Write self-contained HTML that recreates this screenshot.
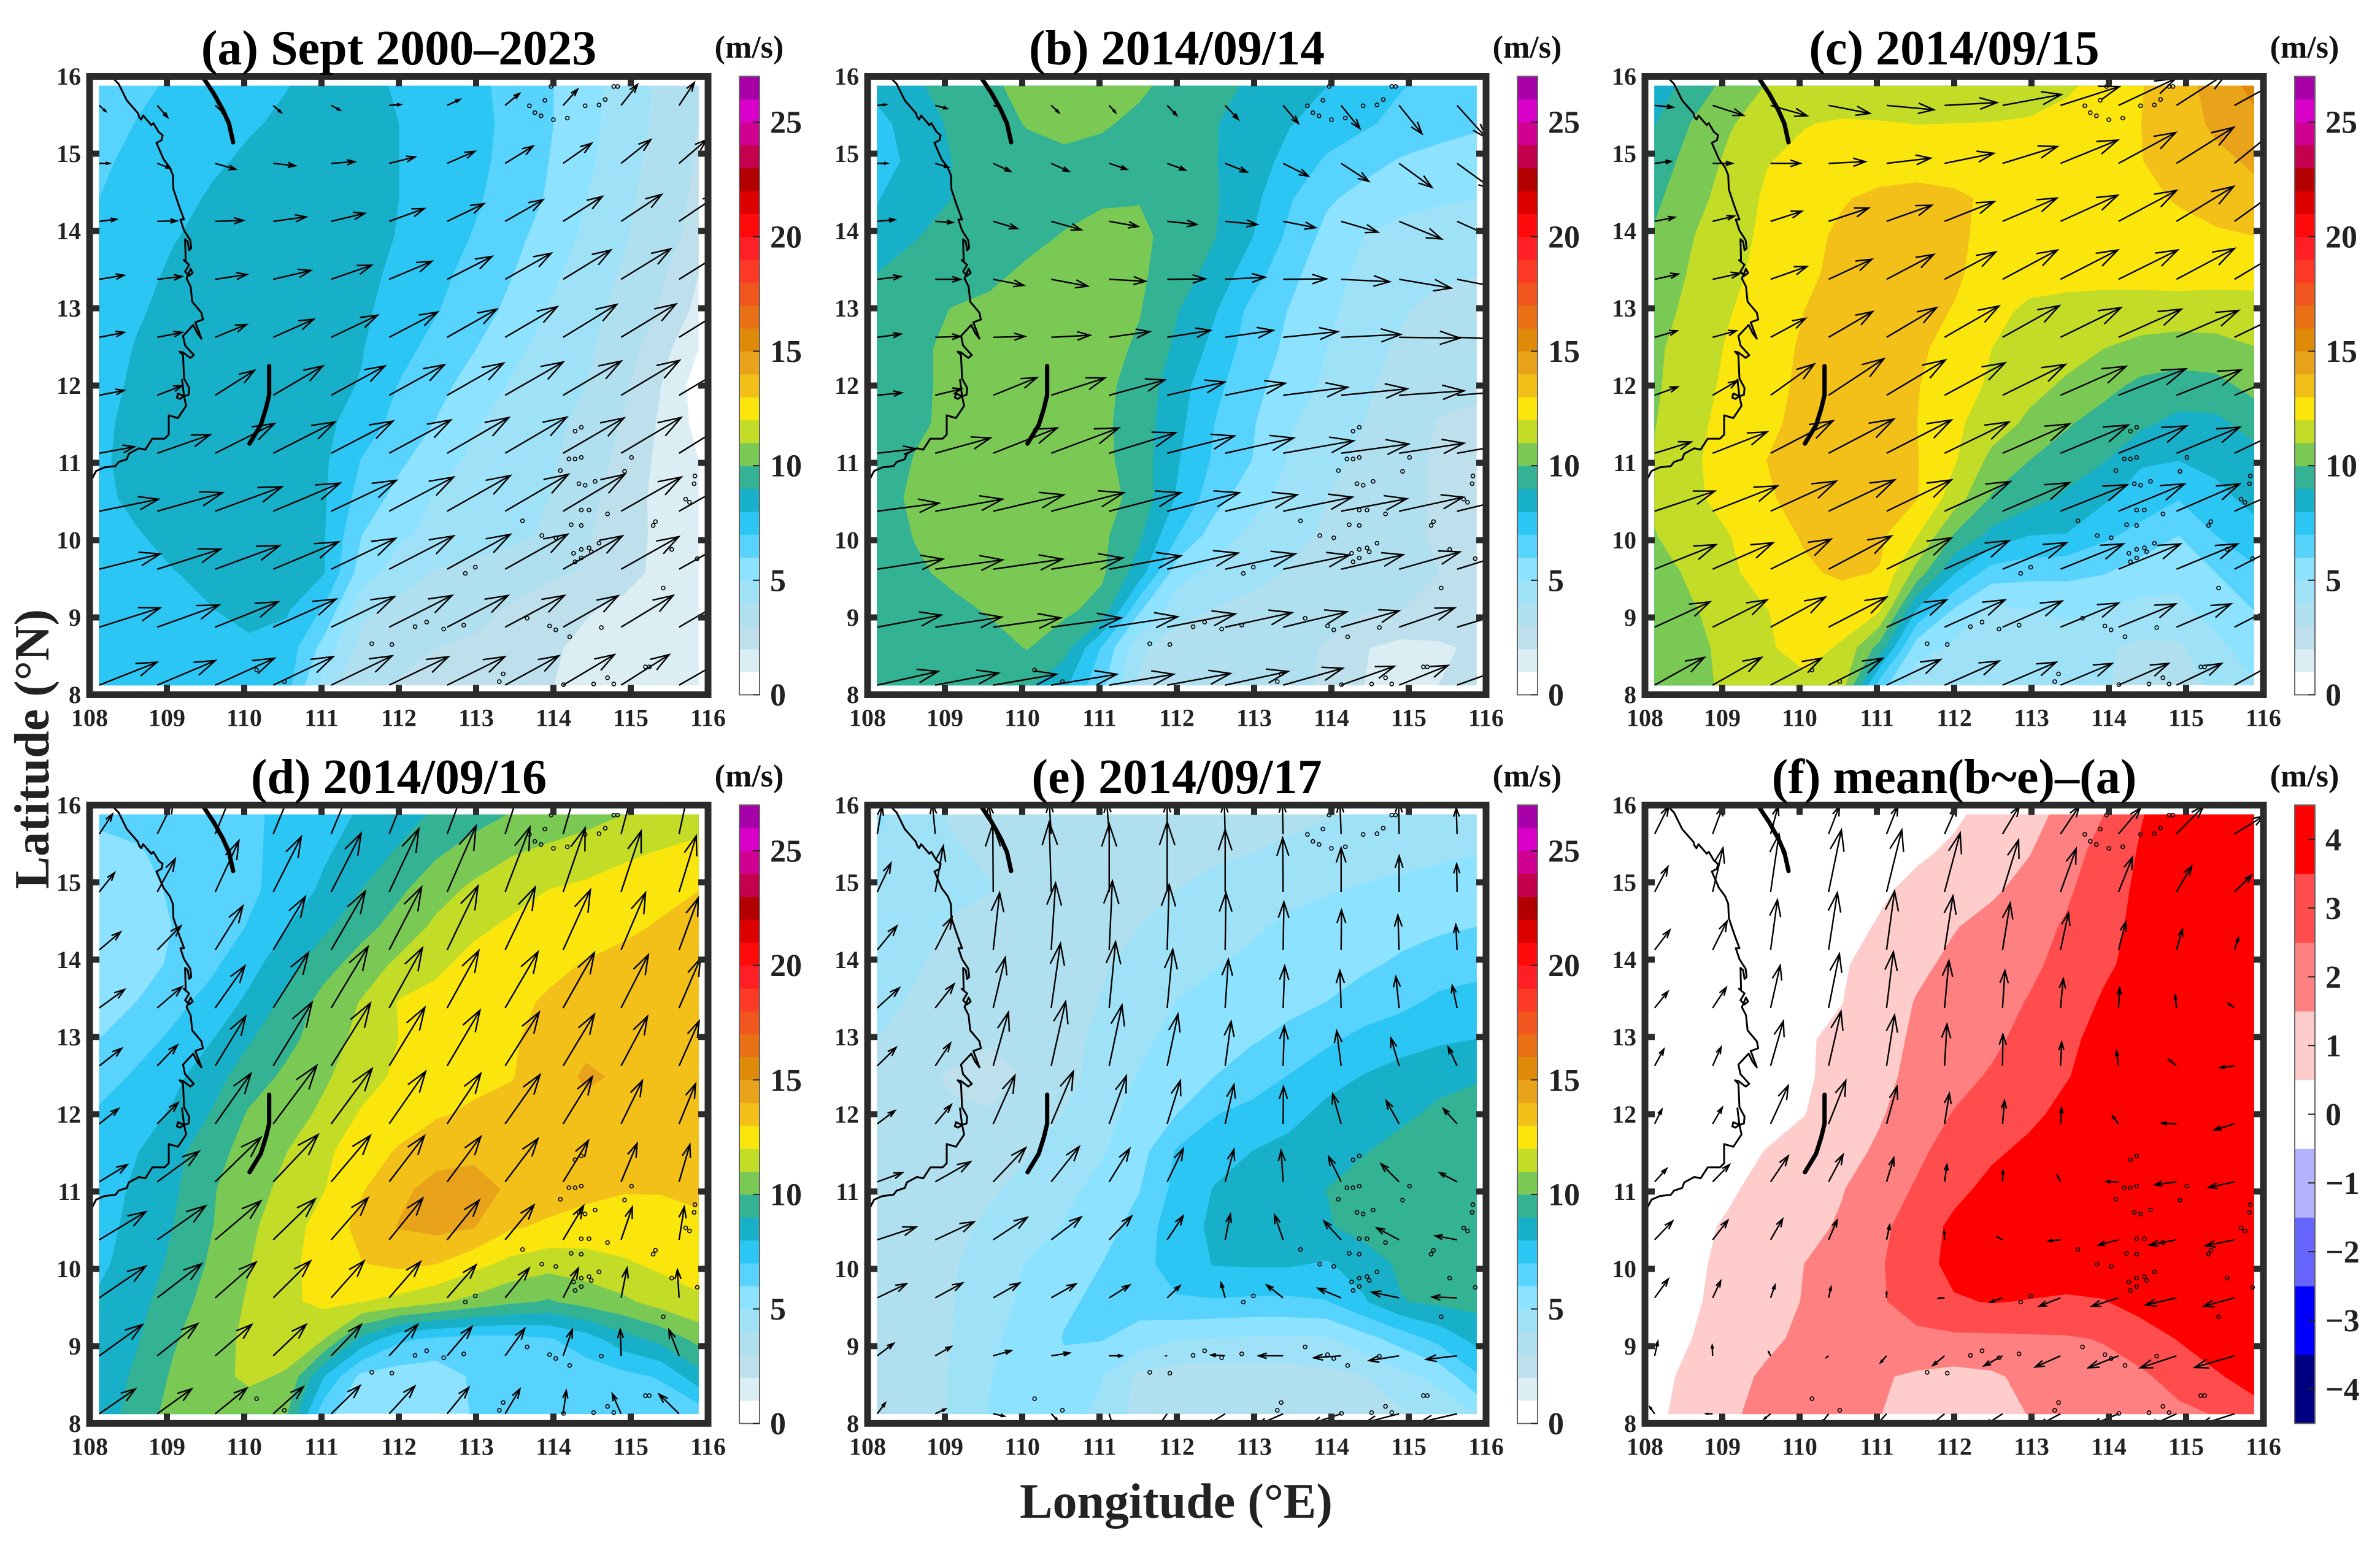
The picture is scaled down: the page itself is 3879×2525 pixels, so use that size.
<!DOCTYPE html>
<html lang="en">
<head>
<meta charset="utf-8">
<title>Wind speed maps</title>
<style>
html,body{margin:0;padding:0;background:#fff}
svg{display:block}
text{font-family:"Liberation Serif",serif;font-weight:bold;fill:#222}
.ttl{font-size:80px;fill:#000;text-anchor:middle}
.unit{font-size:52px;fill:#111;text-anchor:middle}
.axt{font-size:80px;fill:#222;text-anchor:middle}
</style>
</head>
<body>
<svg id="chart" xmlns="http://www.w3.org/2000/svg" width="3879" height="2525" viewBox="0 0 3879 2525">
<rect x="0" y="0" width="3879" height="2525" fill="#fff"/>
<g id="panels"></g>
<text class="ttl" x="650" y="105">(a) Sept 2000–2023</text>
<text class="ttl" x="1918" y="105">(b) 2014/09/14</text>
<text class="ttl" x="3185" y="105">(c) 2014/09/15</text>
<text class="ttl" x="650" y="1293">(d) 2014/09/16</text>
<text class="ttl" x="1918" y="1293">(e) 2014/09/17</text>
<text class="ttl" x="3185" y="1293">(f) mean(b~e)–(a)</text>
<text class="unit" x="1221" y="94">(m/s)</text>
<text class="unit" x="2489" y="94">(m/s)</text>
<text class="unit" x="3756" y="94">(m/s)</text>
<text class="unit" x="1221" y="1282">(m/s)</text>
<text class="unit" x="2489" y="1282">(m/s)</text>
<text class="unit" x="3756" y="1282">(m/s)</text>
<text class="axt" x="1917" y="2474">Longitude (°E)</text>
<text class="axt" x="79" y="1221" transform="rotate(-90 79 1221)">Latitude (°N)</text>
</svg>
<script>
const xTickLabels=[108,109,110,111,112,113,114,115,116];
const yTickLabels=[8,9,10,11,12,13,14,15,16];
const speedColors=['#ffffff','#dbeef4','#bde0ec','#b0e0ef','#9fe2f8','#8de3ff','#58d3fe','#2cc6f4','#18b0c8','#33b294','#7bc955','#c3dc27','#fae60c','#f2c018','#e8a31b','#e08a0a','#e97014','#f1561e','#fd3a26','#ff1f24','#ff0a0a','#dc0000','#b20000','#c4004e','#d00090','#d800c8','#a800a8'];
const speedLevels=[0,1,2,3,4,5,6,7,8,9,10,11,12,13,14,15,16,17,18,19,20,21,22,23,24,25,26,27];
const speedTicks=[0,5,10,15,20,25];
const diffColors=['#000080','#0000ff','#6666ff','#b3b3ff','#ffffff','#ffcccc','#ff8080','#ff4d4d','#ff0000'];
const diffLevels=[-4.5,-3.5,-2.5,-1.5,-0.5,0.5,1.5,2.5,3.5,4.5];
const diffTicks=[-4,-3,-2,-1,0,1,2,3,4];

const gridA=[
[6.55,6.85,7.1,7.4,7.7,7.97,8.25,8.25,7.9,7.55,7.2,6.75,6.1,5.35,4.6,3.8,3.2],
[6.7,7.02,7.3,7.6,7.9,8.15,8.4,8.3,8,7.6,7.25,6.8,6.1,5.3,4.5,3.75,3],
[6.85,7.2,7.5,7.85,8.15,8.4,8.5,8.4,8,7.6,7.25,6.7,6,5.2,4.4,3.6,2.9],
[7,7.35,7.7,8.1,8.35,8.5,8.55,8.4,8,7.55,7.15,6.55,5.9,5,4.25,3.5,2.8],
[7.2,7.55,7.95,8.25,8.45,8.55,8.55,8.35,7.95,7.45,6.95,6.3,5.6,4.8,4.1,3.35,2.7],
[7.35,7.7,8.15,8.35,8.5,8.55,8.5,8.25,7.8,7.25,6.7,6.05,5.25,4.55,3.9,3.15,2],
[7.5,7.9,8.25,8.4,8.5,8.5,8.45,8.15,7.65,7.05,6.45,5.75,4.95,4.3,3.7,2.9,1.7],
[7.6,8.05,8.3,8.4,8.45,8.45,8.35,8.05,7.35,6.65,6.05,5.25,4.65,4.15,3.5,2.4,1],
[7.7,8.15,8.3,8.4,8.45,8.4,8.25,7.95,6.95,6.3,5.6,4.9,4.45,4,3.2,2,0.5],
[7.85,8.2,8.3,8.35,8.35,8.35,8.2,7.6,6.6,5.95,5.1,4.65,4.25,3.75,2.9,1.85,0.7],
[7.9,8.2,8.3,8.35,8.3,8.3,8.15,6.95,6.2,5.4,4.8,4.5,4.15,3.55,2.7,1.75,1],
[7.85,8.15,8.3,8.3,8.3,8.25,8.1,6.6,5.65,4.9,4.65,4.35,4,3.3,2.5,1.7,1.2],
[7.6,7.95,8.2,8.25,8.25,8.2,8.05,6,5.15,4.75,4.5,4.25,3.85,3.1,2.45,1.75,1.3],
[7.4,7.7,7.98,8.15,8.2,8.15,8.03,5.5,4.5,3.9,3.65,3.4,3.2,2.9,2.4,1.7,1.4],
[7.3,7.5,7.75,7.98,8.15,8.1,6.85,4.2,3.7,3.45,3.2,2.9,2.4,2.1,1.7,1.5,1.4],
[7.2,7.35,7.5,7.7,7.9,7.6,5.6,3.7,3.2,3,2.9,2.6,2.2,1.7,1.5,1.35,1.3],
[7.2,7.3,7.35,7.4,7.4,7.4,4.5,3.1,2.95,2.8,2.6,2.4,2.05,1.7,1.5,1.1,1.2]];
const gridB=[
[8.3,8.85,9.35,9.85,10.25,10.45,10.4,10.15,9.7,9.3,8.85,8.4,8,7.5,7.05,6.7,6.4],
[7.7,8.45,9.15,9.65,10.05,10.25,10.1,9.8,9.45,9.05,8.6,8.05,7.6,7.15,6.7,6.4,6.15],
[7.5,8.3,9,9.4,9.7,9.8,9.7,9.55,9.35,9.05,8.45,7.7,6.85,6.35,5.9,5.65,5.5],
[7.95,8.5,9,9.3,9.5,9.7,9.9,9.95,9.6,9.1,8.3,7.1,6.15,5.65,5.35,5.15,5],
[8.2,8.95,9.25,9.45,9.75,10.05,10.25,10.2,9.65,9.05,8.05,6.8,5.7,5,4.6,4.4,4.25],
[9,9.25,9.5,9.8,10.15,10.3,10.3,10.15,9.5,8.65,7.45,6.3,5.4,4.75,4.45,4.25,4.1],
[9.1,9.5,10.05,10.2,10.3,10.35,10.3,10.05,9.05,8.1,6.7,5.95,5.2,4.6,4.15,3.5,3.05],
[9.1,9.85,10.15,10.3,10.4,10.4,10.35,9.85,8.8,7.7,6.5,5.8,5,4.4,3.8,3.4,3.2],
[9.1,9.8,10.2,10.4,10.45,10.4,10.25,9.6,8.45,7.25,6.35,5.45,4.85,4.2,3.55,3.25,3.1],
[9.2,9.8,10.25,10.45,10.5,10.45,10.2,9.5,8.3,7,6.1,5.1,4.55,4,3.4,2.95,2.9],
[9.25,10.05,10.3,10.5,10.55,10.5,10.25,9.5,8.1,6.85,6,4.9,4.35,3.75,3.25,2.9,2.75],
[9.4,10.25,10.5,10.6,10.65,10.6,10.4,9.65,7.9,6.4,5.4,4.65,4,3.65,3.2,2.9,2.7],
[9.3,10.05,10.4,10.5,10.55,10.5,10.2,9.15,7.05,5.5,4.7,4.3,3.85,3.4,3.1,2.95,2.7],
[9.3,9.8,10.25,10.4,10.45,10.4,10.15,8.5,5.4,4.7,4.4,3.9,3.5,3.25,3.1,3,2.7],
[9.3,9.45,9.7,10.1,10.35,10.2,9.65,6.1,4.4,3.95,3.6,3.4,3.2,3.1,3,2.9,2.5],
[9.2,9.3,9.4,9.55,10.05,9.35,6.9,4.2,3.4,3.3,3.25,3.2,2.95,2.05,1.7,1.8,2.2],
[9.1,9.15,9.2,9.2,9.15,8.2,6.2,3.85,3.5,3.3,3.2,3.1,2.95,2,1.6,2,2.3]];
const gridC=[
[8.5,9.4,10.35,11.05,11.2,11.3,11.35,11.35,11.35,11.4,11.5,11.85,12.3,12.95,13.6,14.4,15.3],
[8.95,10.05,10.9,11.5,11.95,12.1,12.05,11.98,12,12.02,12.1,12.3,12.6,13,13.5,14.2,14.7],
[9.5,10.35,11.2,11.95,12.25,12.35,12.4,12.45,12.45,12.45,12.5,12.55,12.75,12.98,13.35,13.75,14.15],
[9.8,10.65,11.4,12.15,12.5,12.9,13.25,13.4,13.2,12.8,12.6,12.55,12.6,12.75,13.1,13.45,13.7],
[10.1,10.95,11.65,12.2,12.65,13.2,13.4,13.45,13.2,12.7,12.5,12.45,12.45,12.5,12.65,12.85,13],
[10.4,11.1,11.8,12.25,12.8,13.25,13.45,13.45,13.15,12.6,12.4,12.4,12.35,12.35,12.35,12.3,12.25],
[10.55,11.3,11.95,12.45,13,13.4,13.45,13.3,12.95,12.3,11.8,11.6,11.55,11.55,11.6,11.6,11.7],
[10.8,11.5,12.1,12.7,13.1,13.4,13.4,13.15,12.7,12,11.65,11.35,11,10.7,10.5,10.6,10.95],
[10.85,11.6,12.2,12.75,13.15,13.4,13.35,13.05,12.45,11.85,11.3,10.85,10.3,9.75,9.6,9.7,10.3],
[10.95,11.75,12.3,12.85,13.2,13.4,13.3,13,12.2,11.5,10.8,10.1,9.6,9.2,8.7,8.75,9.4],
[11.1,11.85,12.4,13,13.25,13.35,13.25,13.05,12.1,10.7,10,9.55,9.05,8.1,8,8.3,8.6],
[11.15,11.8,12.35,12.9,13.3,13.4,13.3,13.05,11.5,9.9,9.4,8.8,8.15,7.55,7.05,7.7,8.3],
[10.95,11.6,11.98,12.55,13.1,13.35,13.2,12.05,9.9,8.7,8,7.95,7.2,6.65,6,7,7.6],
[10.5,11.2,11.85,12.35,12.85,13.15,12.95,10.6,8.05,6.5,6.3,6.2,6.05,5.5,5.3,6,6.8],
[10.3,10.9,11.45,11.98,12.3,12.4,12.1,7.9,5.85,4.75,4.95,5.3,4.95,4.7,4.75,5.45,6],
[10.1,10.7,11.3,11.9,12.3,11.9,9.6,5.4,4.8,4.5,4.3,4.2,4.1,3.8,3.85,4.7,5.6],
[10.1,10.7,11.2,11.6,11.8,11.5,6.5,4.3,4.2,4.1,4.05,4,4.05,3.8,3.7,4.15,4.8]];
const gridD=[
[6.2,6.35,6.55,6.7,6.85,7.2,7.65,8.1,8.55,9.15,9.6,10.05,10.35,10.65,11,11.25,11.5],
[5.7,5.9,6.3,6.55,6.85,7.25,7.85,8.5,9.1,9.85,10.4,10.9,11.2,11.45,11.8,12.05,12.3],
[5.55,5.75,6.1,6.45,6.85,7.3,8.2,9,9.8,10.6,11.2,11.65,12,12.2,12.45,12.7,12.98],
[5.45,5.65,6.02,6.5,7.05,7.95,8.8,9.65,10.4,11.2,11.8,12.15,12.45,12.65,12.8,13.1,13.35],
[5.4,5.6,6.15,6.8,7.65,8.6,9.6,10.45,11.2,11.8,12.3,12.6,12.8,13.05,13.3,13.5,13.6],
[5.65,6,6.7,7.35,8.2,9.25,10.35,11.05,12.05,12.3,12.55,12.8,13.1,13.3,13.4,13.5,13.6],
[6,6.6,7.2,7.95,8.9,9.7,10.5,11.3,12,12.3,12.55,12.9,13.3,13.75,13.7,13.55,13.55],
[6.55,7.15,7.75,8.6,9.5,10.2,10.85,11.55,12.2,12.5,12.75,12.95,13.45,14.15,13.85,13.6,13.55],
[7.15,7.5,8.15,9.05,10.1,10.55,11.2,12.1,12.5,12.9,13.15,13.3,13.4,13.7,13.6,13.5,13.5],
[7.3,7.95,8.7,9.6,10.4,10.98,11.8,12.5,13.1,13.6,13.8,13.75,13.65,13.6,13.55,13.5,13.5],
[7.45,8.2,8.85,9.9,10.6,11.25,11.95,12.9,13.75,14.35,14.35,13.85,13.45,13.2,13.05,13.05,13.2],
[7.65,8.3,9.02,9.95,10.8,11.55,12.4,13.3,14.05,14.3,14.05,13.1,12.85,12.7,12.65,12.7,12.8],
[7.8,8.45,9.2,10.15,10.95,11.75,12.4,12.95,13.2,13,12.3,11.7,11.35,11.5,11.85,12.2,12.4],
[8.15,8.65,9.55,10.4,11.1,11.8,12.25,12.02,11.7,11.2,10.7,10.2,9.9,10.4,10.8,11.4,11.85],
[8.1,8.9,9.9,10.6,11.2,11.4,11,8.7,7.2,6.8,6.6,6.65,6.9,7.5,8.6,9.3,10.3],
[8.3,9.2,10.15,10.75,11.15,10.9,8,5.7,5.5,5.4,6.15,6.3,6.4,6.5,6.7,7.1,8.6],
[8.45,9.4,10.4,10.8,10.6,10.05,6.3,5.3,5.2,5.15,6.1,6.2,6.3,6.3,6.3,6.3,6.4]];
const gridE=[
[5.2,4.5,3.9,3.6,3.5,3.45,3.45,3.45,3.5,3.55,3.65,3.8,3.95,4.1,4.2,4.3,4.4],
[4.8,4.5,4.1,3.85,3.6,3.5,3.5,3.5,3.65,3.85,3.98,4.15,4.3,4.5,4.65,4.8,4.95],
[4.7,4.5,4.2,4.05,3.8,3.6,3.55,3.75,4,4.25,4.45,4.7,4.9,5.1,5.25,5.4,5.55],
[4.6,4.3,3.9,3.55,3.45,3.5,3.65,4,4.35,4.6,4.85,5.2,5.4,5.55,5.7,5.85,6],
[4.5,4.1,3.7,3.45,3.35,3.5,3.9,4.3,4.6,4.95,5.2,5.4,5.6,5.85,6.15,6.5,6.65],
[4.25,3.9,3.5,3.25,3.25,3.5,4.05,4.5,5,5.3,5.55,5.75,6,6.4,6.75,7.2,7.4],
[4,3.7,3.3,3.05,3.15,3.55,4.35,4.85,5.2,5.6,5.9,6.25,6.8,7.3,7.6,7.85,8],
[3.7,3.2,2.9,2.8,3.05,3.6,4.5,5.05,5.5,6,6.5,7.05,7.6,8.05,8.4,8.7,8.85],
[3.6,3.3,3.1,3.05,3.4,4.05,4.7,5.35,6,6.95,7.3,7.65,8.3,8.5,8.8,9.2,9.6],
[3.5,3.3,3.2,3.35,3.9,4.4,4.9,5.6,7.1,7.55,8,8.35,8.65,8.95,9.35,9.6,9.7],
[3.4,3.3,3.4,3.85,4.3,4.75,5.3,5.95,7.3,8.05,8.45,8.75,9,9.4,9.6,9.75,9.8],
[3.3,3.45,3.7,4.2,4.6,5.05,5.55,6.4,7.6,8.15,8.55,8.8,8.9,9.4,9.7,9.8,9.85],
[3.3,3.5,3.9,4.45,5.05,5.5,6,6.7,7.4,8.05,8.1,8.1,7.9,8.4,9.2,9.6,9.7],
[3.3,3.55,3.95,4.6,5.2,5.85,6.2,6.5,6.9,6.9,6.8,6.8,6.95,7.9,8.95,9.2,9.3],
[3.35,3.6,4,4.8,5.4,6.05,6.05,5.5,5.05,4.9,4.85,4.85,4.85,5.6,6.4,7.3,8.3],
[3.4,3.65,4.05,4.95,5.5,5.75,5.05,3.75,3.5,3.45,3.5,3.55,3.7,4,4.7,5.3,6.85],
[3.45,3.7,4.05,5.05,5.95,5.6,4.6,3.7,3.4,3.35,3.35,3.4,3.5,3.6,3.85,4.3,5]];
const gridF=[
[0.1,0.05,0,0,0,0.05,0.1,0.25,0.4,0.7,1.2,1.75,2.5,3.45,4,4.4,4.6],
[0,0,0,0,0.05,0.1,0.25,0.4,0.6,1.05,1.45,2.1,2.85,3.6,4,4.3,4.5],
[0,0,0,0,0.05,0.2,0.4,0.65,1,1.35,1.8,2.35,3.05,3.7,4,4.2,4.35],
[0,0,0,0.05,0.15,0.3,0.55,1,1.45,1.8,2.15,2.6,3.2,3.75,4,4.15,4.3],
[0,0.05,0.1,0.15,0.25,0.4,0.85,1.3,1.7,2,2.3,2.8,3.35,3.8,4,4.1,4.25],
[0.05,0.1,0.15,0.25,0.35,0.48,1,1.55,1.85,2.15,2.55,3.05,3.6,3.9,4.05,4.1,4.2],
[0.1,0.1,0.2,0.3,0.4,0.7,1.15,1.65,2,2.3,2.8,3.3,3.8,4,4.1,4.15,4.2],
[0.05,0.1,0.2,0.3,0.4,0.75,1.25,1.75,2.2,2.6,3.05,3.45,3.9,4.1,4.2,4.3,4.3],
[0.05,0.1,0.2,0.3,0.48,0.9,1.4,2,2.55,2.95,3.3,3.75,4,4.2,4.3,4.4,4.4],
[0.05,0.1,0.3,0.52,0.85,1.15,1.65,2.3,2.9,3.35,3.7,3.95,4.1,4.3,4.4,4.5,4.5],
[0.1,0.2,0.4,0.75,1.1,1.45,2,2.6,3.25,3.75,4,4.2,4.3,4.5,4.5,4.6,4.6],
[0.1,0.3,0.6,0.95,1.25,1.6,2.25,3,3.7,4,4.2,4.3,4.4,4.5,4.6,4.6,4.6],
[0.15,0.35,0.7,1.1,1.5,1.9,2.4,3.05,3.8,4.1,4.15,4.1,4.1,4.3,4.5,4.6,4.6],
[0.2,0.4,0.75,1.1,1.55,2,2.4,2.85,3.4,3.55,3.45,3.35,3.45,3.9,4.2,4.4,4.5],
[0.2,0.5,0.9,1.3,1.7,1.95,2.1,2.3,2.3,2.3,2.35,2.4,2.55,3,3.55,4,4.3],
[0.25,0.7,1.2,1.65,1.9,1.85,1.6,1.35,1.2,1.35,1.75,2,2.2,2.35,2.85,3.4,3.85],
[0.3,0.85,1.4,1.7,1.8,1.75,1.52,1.2,1.1,1.25,1.52,1.75,1.95,2.1,2.3,2.55,3.15]];

const uA=[
[1.6,2.6,2.6,2,2.2,2.9,3.2,3.6,3.6,4.1,3.8],
[2.5,3.2,5.1,5.5,5.9,6.5,6.9,7,7.1,7.4,6.9],
[4.3,4.9,7,8.2,8.4,8.8,9.2,9.5,9.8,10.1,9.9],
[6.2,6.2,7.9,9.4,10.1,10.7,11.2,11.5,11.9,12.4,11.7],
[6.2,6.2,7.8,10.1,11.6,12.1,12.4,13,13.4,13.7,13.7],
[6.2,6.2,9.8,12.4,13.4,13.8,14.1,14.5,14.5,14.6,15],
[8.8,13.2,14.8,15.4,15.4,15.4,15.4,15.4,15.2,15,15],
[14.8,16.3,16.7,16.7,16.3,16.1,15.8,15.8,15.4,15,15],
[15.2,15.8,16.1,16.3,16.1,16.1,15.8,15.6,14.8,14.4,13.7],
[15.2,15.4,15.7,15.7,15.8,15.7,15.2,14.8,13.7,13,13],
[14.4,14.5,14.8,15,15.2,14.8,14.4,13.4,12.8,12,11.7]];
const vA=[
[-1.5,-3,-2.4,-1.8,-1.2,0.2,1.5,3,4,5.2,5.7],
[0,-1.2,-1.5,-0.6,0.4,1.6,3,4.3,5,5.9,5.9],
[0.5,0.1,0.2,1.1,2,3.2,4.4,5.4,6.2,6.7,6.7],
[1,0.7,1.2,2.2,3.5,4.5,5.7,6.5,7.3,7.6,7.3],
[1.2,1.2,3.2,4.5,5.5,6.3,7,7.6,8.2,8.3,8.5],
[1.2,2.4,6.2,7.3,7.3,7.6,8,8.3,8.5,8.7,8.9],
[1.6,4.6,7.4,7.8,8,8.3,8.9,9,8.8,8.9,9.3],
[3,4.6,6.1,7,7.7,8.5,8.9,9.2,9.2,8.5,8.5],
[3.8,5,5.9,6.8,7.7,8.3,8.7,8.7,8.3,8.1,7.7],
[4.8,5.5,6.3,7,7.6,7.9,7.9,7.9,7.8,7.9,7.6],
[5.7,6.1,6.7,7.1,7.3,7.1,7.1,7.3,7.6,7.6,6.7]];
const uB=[
[2.2,3,1.8,1.9,1.6,2.4,3.3,3.8,4.7,5.7,7.3],
[2.5,3.3,4.3,4.4,4.4,4.6,5.5,6.3,6.9,8.2,9],
[4.4,4.4,6,7.5,7.2,7.4,8,8.1,9.2,10.6,11],
[5.9,6.3,7.6,9.1,9.1,9.5,10,10.8,12.1,13,12.8],
[5.9,6.3,7.9,9.7,10.1,10.8,12,13.6,14.9,15.2,15],
[6.1,6.6,10.9,13.4,13.9,14.4,15,16.1,16.5,16.2,15.8],
[9.7,13.8,16,16.9,16.6,16.8,17.1,17.6,16.9,16.2,15.8],
[15.4,16.8,17.6,18.1,17.9,18,18,17.3,16.4,16,15.8],
[16.4,16.8,17.3,17.9,17.9,17.7,17.5,16.6,15.5,15.2,13.8],
[16,16.6,16.8,17.4,17.1,17,16.7,15.9,14.5,13.9,12.8],
[15.2,15.8,15.8,16.4,16.1,15.8,15.7,14.9,13.3,12.2,11.8]];
const vB=[
[0.2,-0.8,-0.5,-1.8,-1.8,-2.5,-3.5,-4.5,-5.8,-7.1,-8.1],
[0,-1,-2,-2,-1.5,-1.7,-2.2,-3.2,-4.5,-6,-6.5],
[0.4,-0.3,-1.8,-2.1,-1.3,-0.8,-0.8,-1.6,-2.7,-4.4,-5],
[0.7,0,-1.5,-1.7,-0.5,0.1,0.5,0.1,-0.6,-2.2,-2.5],
[0.8,0.2,0.2,0.5,1.4,1.7,1.7,1.4,0.7,-0.2,-0.6],
[0.6,1.6,4.4,4.3,3.8,3.3,3,2,1.6,1.1,1.3],
[1.1,3.8,6.3,6.3,5.1,4.3,3.8,3.1,2.3,2.5,2.8],
[2,3,4.1,4.6,4.6,4.6,4.1,3.5,3.1,3.5,3.8],
[2.5,2.3,2.5,2.8,3.3,4,3.8,3.5,3.6,4.3,4.3],
[3,2.5,2.3,2.3,2.6,3.3,3.6,3.8,4.1,4.8,3.8],
[3.4,3,2.7,2.7,2.7,2.9,3.4,4.2,4.7,4.9,4.2]];
const uC=[
[4.6,7.7,9.1,10.3,11.8,13.1,14.7,14.7,14.3,12.8,12.3],
[4.1,4.9,7.4,9.2,11,12.3,13.7,14.3,14.3,14.3,12.3],
[5,5.4,7.8,10,11.3,12.4,13.6,14.3,14.5,14.3,13.3],
[5.9,6.9,9.1,10.8,11.8,12.8,13.7,14.3,14.8,14.5,14.3],
[5.6,5.9,8.7,11,12.5,13.6,14.2,15.1,15.7,15.5,15.3],
[5.8,6.2,10.9,13.8,14.7,15.1,15.7,16.4,16.8,16.1,15.3],
[9.1,13.6,15.6,16.3,16.2,16.1,16.7,16.9,17,15.8,15.3],
[15,16.2,16.4,16.5,16.2,16.4,16.7,16.7,16.5,15.8,15.3],
[15.3,15.1,15.1,15.7,16.2,16.1,16,15.7,15.5,15.3,13.3],
[13.8,13.6,13.7,14.5,15,15.1,14.9,14.5,14.3,13.6,12.3],
[12.4,12.2,12.7,13.5,13.5,13.6,13.4,12.9,12.5,11.3,11.3]];
const vC=[
[-0.5,-2.5,-2.6,-2,-1.1,0.7,2.7,4.7,6.7,8.2,6.7],
[0.5,0,0,0.4,1.3,2.5,4.2,5.8,7.7,9,10],
[1,1.3,2.5,3.3,4,4.9,5.8,6.5,7.7,8.7,9.5],
[1.3,1.5,3.2,5,6.2,6.8,7.3,7.3,7.3,7.7,8.5],
[1.6,1.6,4.7,6.4,7.4,7.8,7.9,7.4,7,6.7,7.4],
[2.1,3.6,7.8,9.1,8.8,8.1,7.7,7.2,6.6,6.3,6.3],
[2.8,5.3,8.1,8.5,8.3,7.8,7.3,7,6.8,6.5,7.3],
[5,6.3,7.5,7.8,7.8,7.4,7.1,6.6,6.8,6.8,6.8],
[6.1,6.6,7.5,8.3,7.8,7.1,6.6,6.3,6.3,6.3,6.8],
[6.3,6.8,7.5,7.5,6.8,6.8,6.5,6,5.8,5.8,6.3],
[6.9,6.9,6.7,6.7,6.4,6,5.7,5.4,5.4,5.4,6.2]];
const uD=[
[3.3,4,4.5,5.8,6.2,6.2,6,5.2,4.5,4,3],
[3.8,4.5,5.9,7,7.5,7.4,7.2,6.2,5.5,5,4.3],
[5.3,5.9,6.9,8,8.5,8.1,7.7,7.5,6.8,6.1,4.8],
[6.3,6.2,7.4,8.8,9.2,8.3,7.9,8.2,7.8,6.8,5.3],
[5.6,5,7.6,9.7,9.8,8.9,8.2,8.5,7.8,6.6,5],
[4.8,5.2,8.9,10.9,10.2,9.1,8.4,8.7,7.3,5.3,4.1],
[7,10.4,11.4,11.2,9.8,8.8,8.4,8.2,6.3,4,2.7],
[11.6,12.1,11.4,10.5,9.2,8.4,8,7.2,5.1,2.8,1.3],
[11.6,11.1,10.2,9.3,8.2,7.8,7.2,6,3.8,1.5,-0.4],
[10.8,10.1,9.1,8.2,7.5,7.1,6.2,4.9,2.3,-0.2,-2.5],
[9,8.6,7.9,7.5,7.2,6.4,5.4,3.7,0.8,-2.2,-5]];
const vD=[
[5,8,11,14,15,15.5,16,16,15.5,15,14],
[4.8,8.3,12.8,13.8,14.7,15.8,16.5,16.2,16,15.2,14],
[4.5,6,11,13.3,14.7,15.7,16,15.7,15,14.3,13],
[4.6,5.3,10.5,13.8,15.3,15,14.3,14,13.8,13.3,12.3],
[4.4,5.2,12.4,15.9,15.7,14.6,13.9,13.4,12.9,12.4,11.2],
[3.8,5.3,12.6,14.6,13.8,13.1,12.6,12.3,11.8,10.8,10],
[4.3,7.6,11.1,11.8,11.6,11.5,11.3,10.8,10.3,9.6,9.3],
[7,8.5,9.7,10.2,10.5,10.4,9.9,8.7,8.5,8.2,8.2],
[7.9,8.5,8.9,9.2,9.2,9,8.2,7.4,7.4,7.4,7],
[7.8,8,7.8,7.8,7.8,7.8,7.3,6.8,6.6,6.6,6.5],
[6.2,6.2,6.4,6.7,7,6.9,6.6,6.2,5.8,5,4.9]];
const uE=[
[1.2,-0.7,-1.1,-0.5,-0.6,0,-0.2,-0.2,-0.3,-0.1,-0.2],
[3.4,2,-0.1,-0.5,0,0,0,-0.1,0,0,-0.1],
[4.9,4.2,1.6,1.1,0.8,0.5,0.2,0.2,0.1,-0.3,-0.3],
[5.5,4.7,3,2.3,1.6,1.4,0.8,0.4,-0.3,-0.8,-1.2],
[4.7,3.8,3.8,3.6,3.2,2.7,1.5,0.3,-1.1,-2,-2.2],
[4.4,4,5.4,5.5,4.3,3.3,2.2,0.1,-2.1,-3.2,-3.4],
[6.3,8.8,8.1,7,5.1,4,2.2,-0.5,-3.1,-4.5,-4.4],
[9.7,9.7,8.5,7.5,5.6,4,1.3,-2.1,-4.3,-5.6,-5.4],
[7.3,6.8,6.6,6.2,5.1,3.2,-1,-4.1,-5.8,-6.8,-6.2],
[4.1,4,4.5,4.6,3.2,-0.2,-3.5,-6.1,-6.8,-7.5,-7.7],
[2,2.6,2.8,1.5,0.7,-2,-4.5,-6.4,-7.5,-8.5,-9.2]];
const vE=[
[7,7.5,7.5,8,8,8,8,8,8,8,6.5],
[7.2,11.5,17,17.5,17,17.5,15.5,13.5,11,9,7],
[6,8.2,14.3,16.7,17.2,16.3,14.3,12,10,8.7,6.3],
[5,6,12.6,16.1,16.5,14.6,12.1,10.5,9.3,7.8,5.6],
[4.6,5.7,13.4,16.1,15.2,12.9,11.1,9.9,8.7,6.9,4.7],
[3.3,4.8,12.1,13.1,12,10.8,9.8,9.3,7.5,5.8,3.8],
[2.3,5,8.5,8.8,8.3,8.3,8.1,7.8,6.3,4.5,2.3],
[3.2,4.5,5.6,5.7,5.9,6,6.4,6.2,4.7,3,1],
[3.5,3.7,3.7,3.5,3.2,3,3.7,3.2,2.4,1.4,0.2],
[3.1,2.3,1.3,0.7,0,0,0.2,0,-0.5,-1.2,-0.9],
[2.7,1.2,-0.6,-1.5,-2.3,-2.8,-2.8,-2.8,-2.5,-2.2,-2.1]];
const uF=[
[3.5,2.6,1.9,2.7,2.8,3.1,4.2,4.7,5.5,6.8,7.3],
[3.3,2.6,2.1,3.2,3.8,3.9,4,3.9,3.5,3.8,4.3],
[3.8,3.6,1.7,2.2,2,2.1,1.9,2,1.8,1.5,1],
[3.3,3.4,2.4,2.7,1.7,1.1,0.6,0.7,0.3,-0.3,-1.5],
[2.3,2.1,3.2,3.1,2,0.6,0.1,0.3,-0.5,-1.9,-3.5],
[1.8,2.4,4.4,4.3,2.6,1.2,0.5,0.3,-1.5,-3.7,-5],
[3,4.2,4.4,3.6,1.8,0.6,0.1,-0.8,-3,-5.4,-6.4],
[4.5,3.8,3,2.1,0.8,-0.1,-1.2,-3,-5,-6.7,-7.2],
[3.4,2,1.1,0.6,0,-1.4,-3,-5.3,-6.7,-7.7,-7.7],
[0.8,-0.1,-0.5,-0.5,-1.5,-2.9,-4.6,-6.3,-7.5,-9,-9.9],
[-1.2,-1.6,-1.6,-1.7,-2.5,-3.4,-4.3,-5.3,-6.7,-7.2,-8.7]];
const vF=[
[7,7,7,7,7,7,7,7,6.5,7,4.5],
[6.3,11,14.5,15.5,15.5,14.7,13,10.8,8.7,6.5,4.2],
[5,7.2,12.5,14.3,14.7,13.5,11.7,9.3,7,5.2,3],
[4.1,5.1,10.6,13.5,14,11.8,9.3,7.3,5,3.1,1.1],
[4.2,4.7,11.2,13.6,12.7,10.4,7.9,5.9,3.7,1.6,-0.4],
[3.6,4.1,9.6,10.8,9.3,7.6,5.8,4,2,0.2,-1.5],
[3.3,4.3,6.5,6.8,6,4.3,2.8,1.6,0.1,-0.7,-1.4],
[4.7,4.9,5.2,4.9,3.7,2.2,0.7,-0.3,-1.3,-1.3,-1.5],
[4.7,4.2,3.2,2.7,1.4,-0.1,-1.1,-2.1,-2.1,-1.8,-2.1],
[3.6,2.6,1,-0.4,-1.7,-2.4,-2.5,-2.8,-3,-3,-2.9],
[1.7,0,-1.3,-2.3,-2.8,-2.8,-2.8,-2.8,-2.8,-3.3,-2.8]];

const coastLon=[108.283,108.376,108.482,108.627,108.64,108.667,108.693,108.799,108.825,108.892,108.945,108.931,108.865,108.958,109.037,109.077,109.085,109.156,109.222,109.175,109.222,109.302,109.315,109.288,109.27,109.236,109.243,109.217,109.288,109.236,109.288,109.333,109.307,109.254,109.307,109.328,109.447,109.466,109.368,109.447,109.394,109.341,109.209,109.236,109.349,109.302,109.209,109.164,109.209,109.222,109.288,109.28,109.222,109.196,109.222,109.143,109.13,109.169,109.222,109.249,109.143,109.024,109.024,108.971,108.812,108.72,108.64,108.508,108.482,108.376,108.336,108.191,108.085,107.992];
const coastLat=[15.998,15.902,15.689,15.523,15.477,15.441,15.494,15.37,15.395,15.282,15.239,15.175,15.14,14.927,14.821,14.722,14.538,14.325,14.148,14.148,14.006,13.882,13.776,13.751,13.864,13.893,13.616,13.623,13.563,13.475,13.421,13.457,13.51,13.386,13.28,13.085,12.943,12.854,12.819,12.606,12.677,12.784,12.642,12.518,12.394,12.358,12.429,12.44,12.394,12.092,11.969,11.88,11.862,12.075,11.862,11.898,11.844,11.827,11.862,11.738,11.579,11.614,11.366,11.313,11.313,11.171,11.189,11.118,11.047,11.012,10.959,10.941,10.895,10.718];
const trackNorthLon=[109.46,109.606,109.725,109.804,109.857];
const trackNorthLat=[15.998,15.778,15.565,15.388,15.147];
const trackSouthLon=[110.323,110.323,110.281,110.214,110.069];
const trackSouthLat=[12.252,11.88,11.703,11.49,11.249];
const islandLon=[113.69,113.76,113.84,114,114.18,114.41,114.59,114.67,114.78,114.83,113.89,113.97,114.36,114.28,114.2,114.28,114.36,115.01,114.09,114.92,115.83,115.82,114.33,114.41,114.54,115.71,115.76,114.36,114.46,114.7,113.6,114.23,114.36,115.32,115.29,113.85,114.03,114.26,114.36,114.46,114.59,114.28,114.36,114.49,115.53,115.86,112.99,112.86,115.42,113.66,112.21,112.36,112.58,112.84,113.95,114.03,114.21,114.62,111.65,111.91,113.3,113.35,115.19,115.24,114.52,114.7,114.78,114.13,110.16,110.52];
const islandLat=[15.62,15.53,15.49,15.44,15.46,15.62,15.63,15.7,15.87,15.87,15.69,15.87,11.46,11.41,11.05,11.05,11.07,11.07,10.9,10.89,10.83,10.73,10.73,10.71,10.76,10.53,10.49,10.39,10.39,10.34,10.25,10.2,10.19,10.24,10.19,10.06,10.03,9.83,9.88,9.9,9.96,9.72,9.77,9.85,9.88,9.76,9.65,9.57,9.38,8.99,8.88,8.94,8.85,8.9,8.89,8.84,8.75,8.87,8.66,8.65,8.17,8.27,8.36,8.36,8.14,8.22,8.14,8.13,8.32,8.17];

const NS='http://www.w3.org/2000/svg';
const DEG=126, ARROW=6.53, LON0=108.125, LAT0=15.875, SPAN=7.75;
const ARROW_LON0=108.125, ARROW_LAT0=15.625, ARROW_STEP=0.75;
const root=document.getElementById('panels');

function mk(tag,parent){const e=document.createElementNS(NS,tag);parent.appendChild(e);return e;}
function set(e,o){for(const k in o)e.setAttribute(k,o[k]);return e;}

function clipCell(pts,level){
  const out=[];
  for(let i=0;i<pts.length;i++){
    const a=pts[i],b=pts[(i+1)%pts.length];
    const ia=a[2]>=level,ib=b[2]>=level;
    if(ia)out.push(a);
    if(ia!==ib){
      const t=(level-a[2])/(b[2]-a[2]);
      out.push([a[0]+t*(b[0]-a[0]),a[1]+t*(b[1]-a[1]),level]);
    }
  }
  return out;
}

function drawContours(g,grid,levels,colors,X,Y){
  const n=grid.length,m=grid[0].length;
  const lonAt=j=>LON0+SPAN*j/(m-1), latAt=i=>LAT0-SPAN*i/(n-1);
  let minV=Infinity;
  grid.forEach(r=>r.forEach(v=>{if(v<minV)minV=v;}));
  let base=0;
  for(let k=0;k<colors.length;k++){if(minV>=levels[k])base=k;}
  const bg=mk('rect',g);
  
  
  set(bg,{x:X(LON0),y:Y(LAT0),width:X(LON0+SPAN)-X(LON0),height:Y(LAT0-SPAN)-Y(LAT0),fill:colors[base]});
  for(let k=base+1;k<colors.length;k++){
    let d='';
    for(let i=0;i<n-1;i++){
      for(let j=0;j<m-1;j++){
        const cell=[[X(lonAt(j)),Y(latAt(i)),grid[i][j]],[X(lonAt(j+1)),Y(latAt(i)),grid[i][j+1]],[X(lonAt(j+1)),Y(latAt(i+1)),grid[i+1][j+1]],[X(lonAt(j)),Y(latAt(i+1)),grid[i+1][j]]];
        const poly=clipCell(cell,levels[k]);
        if(poly.length>2){
          d+='M'+poly.map(p=>p[0].toFixed(1)+' '+p[1].toFixed(1)).join('L')+'Z';
        }
      }
    }
    if(!d)continue;
    const p=mk('path',g);
    
    
    set(p,{d:d,fill:colors[k],stroke:colors[k],'stroke-width':1,'stroke-linejoin':'round'});
  }
}

function drawArrows(g,u,v,X,Y){
  for(let i=0;i<u.length;i++){
    for(let j=0;j<u[i].length;j++){
      const x0=X(ARROW_LON0+ARROW_STEP*j),y0=Y(ARROW_LAT0-ARROW_STEP*i);
      const dx=u[i][j]*ARROW,dy=-v[i][j]*ARROW;
      const tx=x0+dx,ty=y0+dy;
      const bx=tx-0.33*dx,by=ty-0.33*dy;
      const ox=-0.11*dy,oy=0.11*dx;
      const a=mk('path',g);
      
      
      const f=q=>q.toFixed(1);
      set(a,{d:'M'+f(x0)+' '+f(y0)+'L'+f(tx)+' '+f(ty)+'M'+f(bx+ox)+' '+f(by+oy)+'L'+f(tx)+' '+f(ty)+'L'+f(bx-ox)+' '+f(by-oy),fill:'none',stroke:'#000','stroke-width':2.4});
    }
  }
}

function polyline(lons,lats,X,Y){return lons.map((l,i)=>X(l).toFixed(1)+','+Y(lats[i]).toFixed(1)).join(' ');}

function drawMapLines(g,X,Y){
  const c=mk('polyline',g);
  
  
  set(c,{points:polyline(coastLon,coastLat,X,Y),fill:'none',stroke:'#000','stroke-width':3,'stroke-linejoin':'round'});
  const t1=mk('polyline',g);
  
  
  set(t1,{points:polyline(trackNorthLon,trackNorthLat,X,Y),fill:'none',stroke:'#000','stroke-width':7,'stroke-linejoin':'round','stroke-linecap':'round'});
  const t2=mk('polyline',g);
  
  
  set(t2,{points:polyline(trackSouthLon,trackSouthLat,X,Y),fill:'none',stroke:'#000','stroke-width':7,'stroke-linejoin':'round','stroke-linecap':'round'});
  for(let i=0;i<islandLon.length;i++){
    const e=mk('circle',g);
    
    
    set(e,{cx:X(islandLon[i]).toFixed(1),cy:Y(islandLat[i]).toFixed(1),r:3,fill:'none',stroke:'#000','stroke-width':1.6});
  }
}

function drawAxes(g,x0,y0,X,Y){
  const W=DEG*8;
  xTickLabels.forEach((t,i)=>{
    if(i>0&&i<xTickLabels.length-1){
      [[y0,y0+16],[y0+W-16,y0+W]].forEach(s=>{
        const l=mk('line',g);
        
        
        set(l,{x1:X(t),x2:X(t),y1:s[0],y2:s[1],stroke:'#2b2b2b','stroke-width':10});
      });
    }
    const tx=mk('text',g);
    
    
    set(tx,{x:X(t),y:y0+W+51,'font-size':40,'text-anchor':'middle'});
    tx.textContent=t;
  });
  yTickLabels.forEach((t,i)=>{
    if(i>0&&i<yTickLabels.length-1){
      [[x0,x0+16],[x0+W-16,x0+W]].forEach(s=>{
        const l=mk('line',g);
        
        
        set(l,{x1:s[0],x2:s[1],y1:Y(t),y2:Y(t),stroke:'#2b2b2b','stroke-width':10});
      });
    }
    const tx=mk('text',g);
    
    
    set(tx,{x:x0-14,y:Y(t)+13.5,'font-size':40,'text-anchor':'end'});
    tx.textContent=t;
  });
  const fr=mk('rect',g);
  
  
  set(fr,{x:x0,y:y0,width:W,height:W,fill:'none',stroke:'#2b2b2b','stroke-width':11});
}

function drawColorbar(g,x0,y0,levels,colors,ticks){
  const W=DEG*8,left=x0+1059,cw=33,lo=levels[0],hi=levels[levels.length-1];
  const yv=v=>y0+W-(v-lo)/(hi-lo)*W;
  colors.forEach((c,k)=>{
    const r=mk('rect',g);
    
    
    set(r,{x:left,y:yv(levels[k+1]),width:cw,height:yv(levels[k])-yv(levels[k+1])+0.5,fill:c});
  });
  const b=mk('rect',g);
  
  
  set(b,{x:left,y:y0,width:cw,height:W,fill:'none',stroke:'#666','stroke-width':2});
  ticks.forEach(t=>{
    const l=mk('line',g);
    
    
    set(l,{x1:left+cw-11,x2:left+cw,y1:yv(t),y2:yv(t),stroke:'#222','stroke-width':2});
    const tx=mk('text',g);
    
    
    set(tx,{x:left+50,y:yv(t)+17.5,'font-size':52});
    tx.textContent=t<0?'\u2212'+(-t):String(t);
  });
}

function drawPanel(key,x0,y0,grid,u,v,levels,colors,ticks){
  const X=lon=>x0+(lon-108)*DEG, Y=lat=>y0+(16-lat)*DEG;
  const g=mk('g',root);
  
  
  const cp=mk('clipPath',g);
  cp.setAttribute('id','clip-'+key);
  set(mk('rect',cp),{x:x0,y:y0,width:DEG*8,height:DEG*8});
  const inner=mk('g',g);
  
  
  inner.setAttribute('clip-path','url(#clip-'+key+')');
  drawContours(inner,grid,levels,colors,X,Y);
  drawArrows(inner,u,v,X,Y);
  drawMapLines(inner,X,Y);
  drawAxes(g,x0,y0,X,Y);
  drawColorbar(g,x0,y0,levels,colors,ticks);
}

drawPanel('a',146,124.5,gridA,uA,vA,speedLevels,speedColors,speedTicks);
drawPanel('b',1414,124.5,gridB,uB,vB,speedLevels,speedColors,speedTicks);
drawPanel('c',2681,124.5,gridC,uC,vC,speedLevels,speedColors,speedTicks);
drawPanel('d',146,1312.3,gridD,uD,vD,speedLevels,speedColors,speedTicks);
drawPanel('e',1414,1312.3,gridE,uE,vE,speedLevels,speedColors,speedTicks);
drawPanel('f',2681,1312.3,gridF,uF,vF,diffLevels,diffColors,diffTicks);
</script>
</body>
</html>
